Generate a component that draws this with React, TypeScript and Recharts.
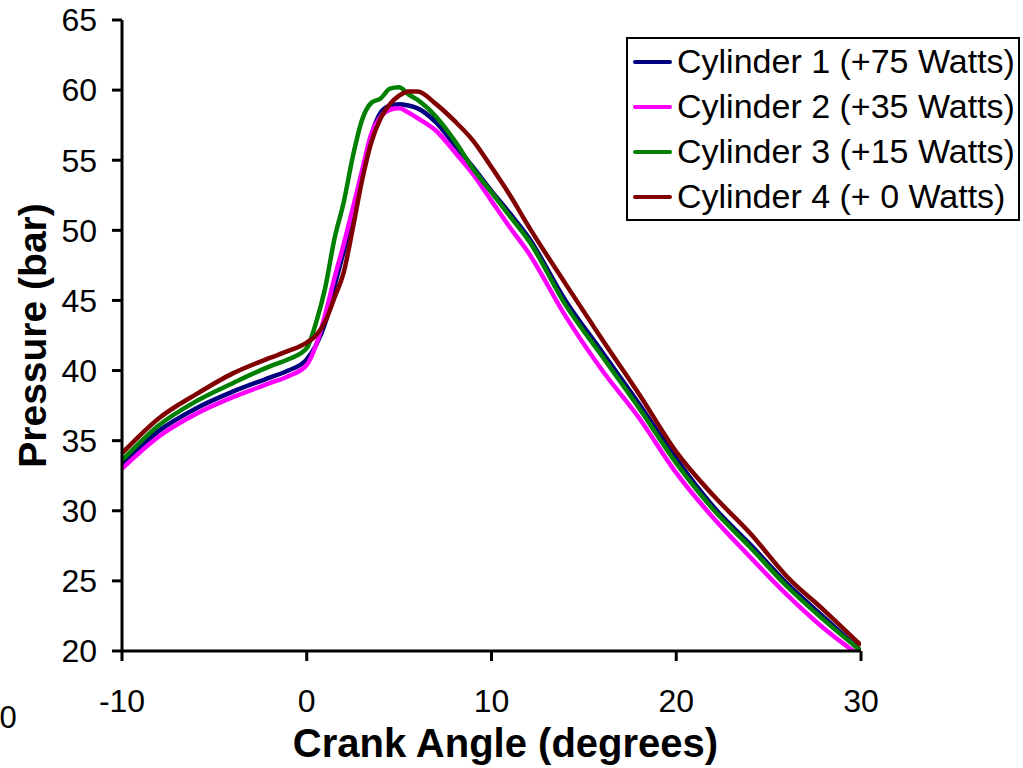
import React from 'react';
import { LineChart, Line, XAxis, YAxis, Legend, Label } from 'recharts';

const FONT = '"Liberation Sans", Arial, Helvetica, sans-serif';

const angles = [-10, -8, -6, -4, -2, -1, 0, 0.5, 1, 1.5, 2, 2.5, 3, 3.5, 4, 4.5, 5, 5.5, 6, 7, 8, 9, 10, 11, 12, 14, 16, 18, 20, 22, 24, 26, 28, 30];

const cyl1 = [33.3, 35.7, 37.3, 38.5, 39.5, 40.0, 40.8, 41.8, 43.4, 46.0, 48.5, 51.0, 54.0, 56.8, 58.4, 58.9, 59.0, 58.9, 58.7, 57.7, 56.1, 54.5, 52.8, 51.2, 49.5, 45.0, 41.3, 37.6, 33.7, 30.3, 27.6, 24.8, 22.4, 20.0];
const cyl2 = [33.0, 35.3, 36.9, 38.1, 39.1, 39.6, 40.4, 41.8, 44.0, 46.6, 49.0, 51.6, 54.3, 56.9, 58.1, 58.6, 58.7, 58.4, 58.0, 57.1, 55.6, 54.0, 52.1, 50.2, 48.4, 43.9, 40.0, 36.6, 32.7, 29.5, 26.7, 24.0, 21.6, 19.6];
const cyl3 = [33.6, 36.1, 37.8, 39.1, 40.3, 40.8, 41.6, 43.4, 45.9, 49.4, 52.0, 55.3, 57.9, 59.1, 59.4, 60.1, 60.2, 59.7, 59.3, 58.1, 56.4, 54.4, 52.7, 51.0, 49.3, 44.7, 41.0, 37.3, 33.4, 30.1, 27.4, 24.6, 22.2, 20.0];
const cyl4 = [34.1, 36.6, 38.3, 39.8, 40.9, 41.4, 42.0, 42.5, 43.5, 45.2, 47.0, 50.2, 53.6, 56.3, 58.0, 59.0, 59.6, 59.9, 59.9, 59.0, 57.8, 56.4, 54.5, 52.5, 50.3, 46.2, 42.2, 38.3, 34.2, 31.1, 28.4, 25.3, 22.9, 20.4];

const seriesNames = ['Cylinder 1 (+75 Watts)', 'Cylinder 2 (+35 Watts)', 'Cylinder 3 (+15 Watts)', 'Cylinder 4 (+ 0 Watts)'];
const seriesColors = ['#000080', '#FF00FF', '#008000', '#800000'];

const xTicks = [-10, 0, 10, 20, 30];
const yTicks = [20, 25, 30, 35, 40, 45, 50, 55, 60, 65];

const data = angles.map((a, i) => ({ angle: a, c1: cyl1[i], c2: cyl2[i], c3: cyl3[i], c4: cyl4[i] }));
const keys = ['c1', 'c2', 'c3', 'c4'];

const renderLegend = (props: any) => {
  const payload = props.payload || [];
  return (
    <div style={{ border: '2px solid #000', background: '#fff', width: 390, height: 180, boxSizing: 'content-box' }}>
      {payload.map((entry: any, i: number) => (
        <div key={i} style={{ display: 'flex', alignItems: 'center', height: 45 }}>
          <svg width={44} height={10} style={{ display: 'block' }}>
            <line x1={7} x2={42} y1={5} y2={5} stroke={entry.color} strokeWidth={4} strokeLinecap="round" />
          </svg>
          <span style={{ fontSize: 34, fontFamily: FONT, marginLeft: 5, whiteSpace: 'nowrap', lineHeight: '45px', color: '#000' }}>
            {entry.value}
          </span>
        </div>
      ))}
    </div>
  );
};

const XTitle = (props: any) => {
  const vb = props.viewBox || { x: 122, y: 651, width: 739, height: 60 };
  return (
    <g>
      <text x={vb.x + vb.width / 2 + 14} y={vb.y + 106} textAnchor="middle" fontSize={40} fontWeight="bold" fontFamily={FONT} fill="#000">
        Crank Angle (degrees)
      </text>
      <text x={8} y={728} textAnchor="middle" fontSize={31} fontFamily={FONT} fill="#000">0</text>
    </g>
  );
};

const YTitle = (props: any) => {
  const vb = props.viewBox || { x: 42, y: 20, width: 80, height: 631 };
  const cx = vb.x + 3.5;
  const cy = vb.y + vb.height / 2;
  return (
    <text x={cx} y={cy} transform={`rotate(-90, ${cx}, ${cy})`} textAnchor="middle" fontSize={39} fontWeight="bold" fontFamily={FONT} fill="#000">
      Pressure (bar)
    </text>
  );
};

export default function App() {
  return (
    <div style={{ position: 'absolute', left: 0, top: 0, width: 1023, height: 768, background: '#fff' }}>
      <LineChart width={1023} height={768} data={data} margin={{ top: 20, right: 162, bottom: 57, left: 42 }}>
        <XAxis
          dataKey="angle"
          type="number"
          domain={[-10, 30]}
          ticks={xTicks}
          height={60}
          tickSize={10}
          tickMargin={28}
          axisLine={{ stroke: '#000', strokeWidth: 3 }}
          tickLine={{ stroke: '#000', strokeWidth: 3 }}
          tick={{ fontSize: 32, fill: '#000', fontFamily: FONT }}
          allowDataOverflow
        >
          <Label content={<XTitle />} />
        </XAxis>
        <XAxis
          xAxisId="top"
          orientation="top"
          dataKey="angle"
          type="number"
          domain={[-10, 30]}
          height={0}
          tick={false}
          tickLine={false}
          axisLine={{ stroke: '#808080', strokeWidth: 2 }}
        />
        <YAxis
          type="number"
          domain={[20, 65]}
          ticks={yTicks}
          width={80}
          tickSize={10}
          tickMargin={15}
          axisLine={{ stroke: '#000', strokeWidth: 3 }}
          tickLine={{ stroke: '#000', strokeWidth: 3 }}
          tick={{ fontSize: 32, fill: '#000', fontFamily: FONT }}
          allowDataOverflow
        >
          <Label content={<YTitle />} />
        </YAxis>
        <YAxis
          yAxisId="right"
          orientation="right"
          type="number"
          domain={[20, 65]}
          width={0}
          tick={false}
          tickLine={false}
          axisLine={{ stroke: '#808080', strokeWidth: 2 }}
        />
        {keys.map((k, i) => (
          <Line
            key={k}
            type="monotone"
            dataKey={k}
            name={seriesNames[i]}
            stroke={seriesColors[i]}
            strokeWidth={4.5}
            dot={false}
            activeDot={false}
            strokeLinejoin="round"
            isAnimationActive={false}
          />
        ))}
        <Legend
          layout="vertical"
          align="center"
          verticalAlign="middle"
          content={renderLegend}
          wrapperStyle={{ position: 'absolute', left: 626, top: 37, width: 394, height: 184 }}
        />
      </LineChart>
    </div>
  );
}
